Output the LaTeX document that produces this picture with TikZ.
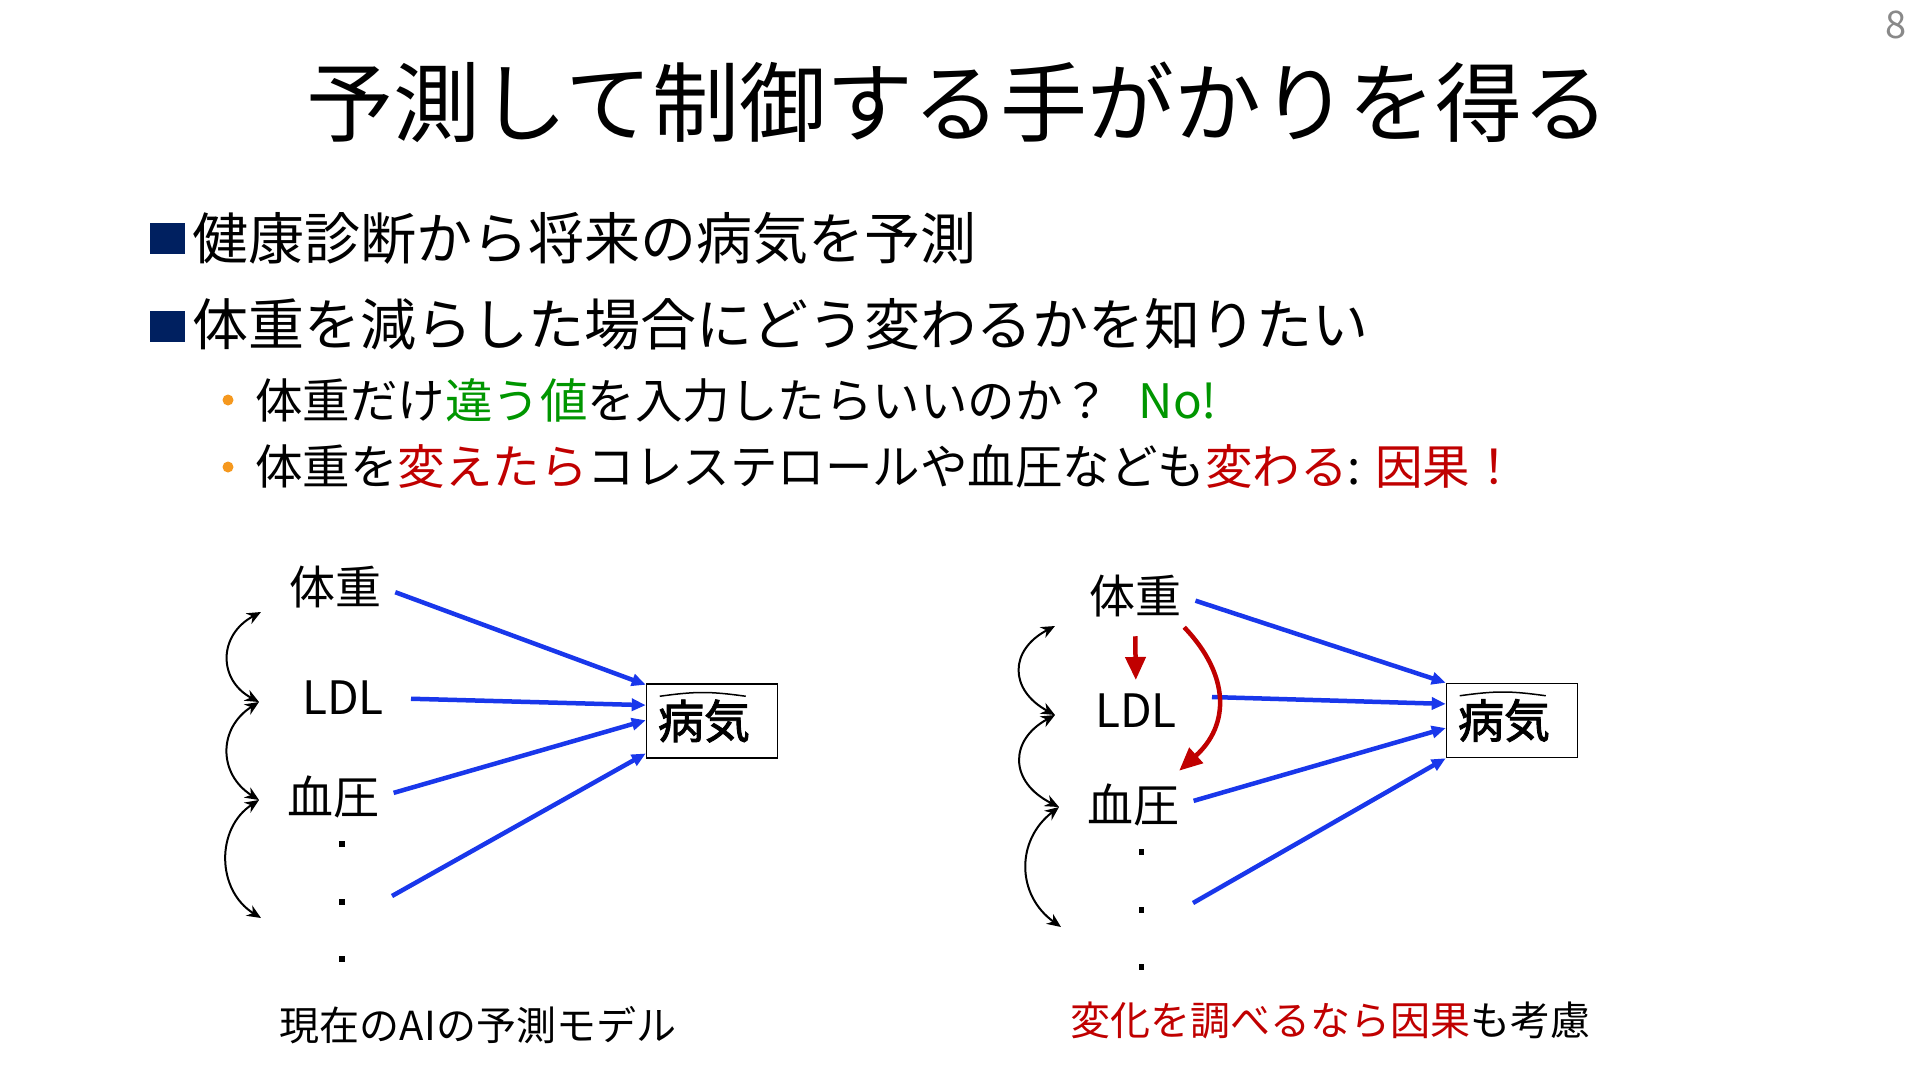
\documentclass[tikz,border=0pt]{standalone}
\usepackage{fontspec}
\setmainfont{Noto Sans CJK JP}[AutoFakeBold=2]
\usepackage{tikz}
\usetikzlibrary{arrows.meta, calc}

\definecolor{navy}{RGB}{0,32,96}
\definecolor{bulorange}{RGB}{245,152,30}
\definecolor{okgreen}{RGB}{0,150,0}
\definecolor{cred}{RGB}{192,0,0}
\definecolor{arrblue}{RGB}{25,55,235}
\definecolor{pagegray}{RGB}{137,137,137}

\newcommand{\fsz}[1]{\fontsize{#1}{#1}\selectfont}

\begin{document}
\begin{tikzpicture}[x=1pt, y=-1pt,
  every node/.style={inner sep=0pt},
  arr/.style={-{Triangle[length=14pt,width=12pt]}, line width=4.5pt, arrblue, shorten <=15pt},
  cor/.style={{Stealth[length=14pt,width=12pt]}-{Stealth[length=14pt,width=12pt]}, line width=2pt, black},
  cause/.style={-{Triangle[length=23pt,width=20pt]}, line width=4.5pt, cred},
  var/.style={font=\fsz{46}},
  outc/.style={draw, line width=1.5pt, minimum width=131pt, minimum height=74pt, font=\fsz{46}\bfseries},
  dot/.style={fill=black, minimum size=5.5pt},
  sqb/.style={fill=navy, minimum width=35pt, minimum height=31pt},
  subb/.style={circle, fill=bulorange, minimum size=11pt},
  lbl/.style={font=\fsz{40}}
]
\useasboundingbox (0,0) rectangle (1920,1080);
\fill[white] (0,0) rectangle (1920,1080);

% ---------- Title and page number ----------
\node[font=\fsz{87}] (title) at (958,102) {予測して制御する手がかりを得る};
\node[font=\fsz{38}, text=pagegray] (pg) at (1896,25) {8};

% ---------- Bullets ----------
\node[sqb] (sq1) at (167,238) {};
\node[anchor=west, font=\fsz{56}] (b1) at (192,238) {健康診断から将来の病気を予測};
\node[sqb] (sq2) at (167,326) {};
\node[anchor=west, font=\fsz{56}] (b2) at (192,324) {体重を減らした場合にどう変わるかを知りたい};
\node[subb] (o1) at (228,400) {};
\node[anchor=west, font=\fsz{47.5}] (s1) at (255,401)
  {体重だけ\textcolor{okgreen}{違う値}を入力したらいいのか？\hspace{0.6em}\textcolor{okgreen}{No!}};
\node[subb] (o2) at (228,467) {};
\node[anchor=west, font=\fsz{47.5}] (s2) at (255,466)
  {体重を\textcolor{cred}{変えたら}コレステロールや血圧なども\textcolor{cred}{変わる}: \textcolor{cred}{因果！}};

% ---------- Left: prediction model ----------
\node[var] (wt1) at (335,587) {体重};
\node[var] (ldl1) at (343,698) {LDL};
\node[var] (bp1) at (333,797) {血圧};
\foreach \y [count=\i] in {844,902,959}
  \node[dot] (da\i) at (342,\y) {};
\node[outc] (dis1) at (712,721) {病気\hspace*{16pt}};
\draw[line width=1.5pt] ($(dis1.north west)+(14,13)$) .. controls ($(dis1.north west)+(50,8)$)
  and ($(dis1.north west)+(64,8)$) .. ($(dis1.north west)+(100,13)$);
\coordinate (xa) at (392,896);

\draw[arr] (wt1.east) -- ($(dis1.north west)!0.02!(dis1.south west)$);
\draw[arr, shorten <=27pt] (ldl1.east) -- ($(dis1.north west)!0.29!(dis1.south west)$);
\draw[arr] (bp1.east) -- ($(dis1.north west)!0.49!(dis1.south west)$);
\draw[arr, shorten <=0pt] (xa) -- ($(dis1.north west)!0.93!(dis1.south west)$);

% correlations
\coordinate (ca1) at (261,612);
\coordinate (ca2) at (259,702);
\coordinate (ca3) at (259,800);
\coordinate (ca4) at (261,918);
\draw[cor] (ca1) .. controls (218,635) and (218,680) .. (ca2);
\draw[cor] (ca2) .. controls (218,728) and (218,774) .. (ca3);
\draw[cor] (ca3) .. controls (216,828) and (216,890) .. (ca4);

\node[lbl] (cap1) at (478,1025) {現在のAIの予測モデル};

% ---------- Right: with causal effects ----------
\node[var] (wt2) at (1135,596) {体重};
\node[var] (ldl2) at (1136,711) {LDL};
\node[var] (bp2) at (1133,805) {血圧};
\foreach \y [count=\i] in {852,910,967}
  \node[dot] (db\i) at (1141.5,\y) {};
\node[outc] (dis2) at (1512,720.5) {病気\hspace*{16pt}};
\draw[line width=1.5pt] ($(dis2.north west)+(14,13)$) .. controls ($(dis2.north west)+(50,8)$)
  and ($(dis2.north west)+(64,8)$) .. ($(dis2.north west)+(100,13)$);
\coordinate (xb) at (1193,903);

\draw[arr] (wt2.east) -- (dis2.north west);
\draw[arr, shorten <=35pt] ([yshift=15pt]ldl2.east) -- ($(dis2.north west)!0.28!(dis2.south west)$);
\draw[arr] (bp2.east) -- ($(dis2.north west)!0.6!(dis2.south west)$);
\draw[arr, shorten <=0pt] (xb) -- (dis2.south west);

% causal arrows
\draw[cause, shorten <=19pt, shorten >=14pt] (wt2.south) -- (ldl2.north);
\draw[cause] ($(wt2.south east)+(3,10)$) .. controls (1230,675) and (1230,725) .. ($(bp2.north east)+(0,-13)$);

% correlations
\coordinate (cb1) at (1055,626);
\coordinate (cb2) at (1055,715);
\coordinate (cb3) at (1059,807);
\coordinate (cb4) at (1061,927);
\draw[cor] (cb1) .. controls (1009,650) and (1009,690) .. (cb2);
\draw[cor] (cb2) .. controls (1009,740) and (1009,782) .. (cb3);
\draw[cor] (cb3) .. controls (1016,840) and (1016,895) .. (cb4);

\node[lbl] (cap2) at (1330,1020) {\textcolor{cred}{変化を調べるなら因果}も考慮};

\end{tikzpicture}
\end{document}
